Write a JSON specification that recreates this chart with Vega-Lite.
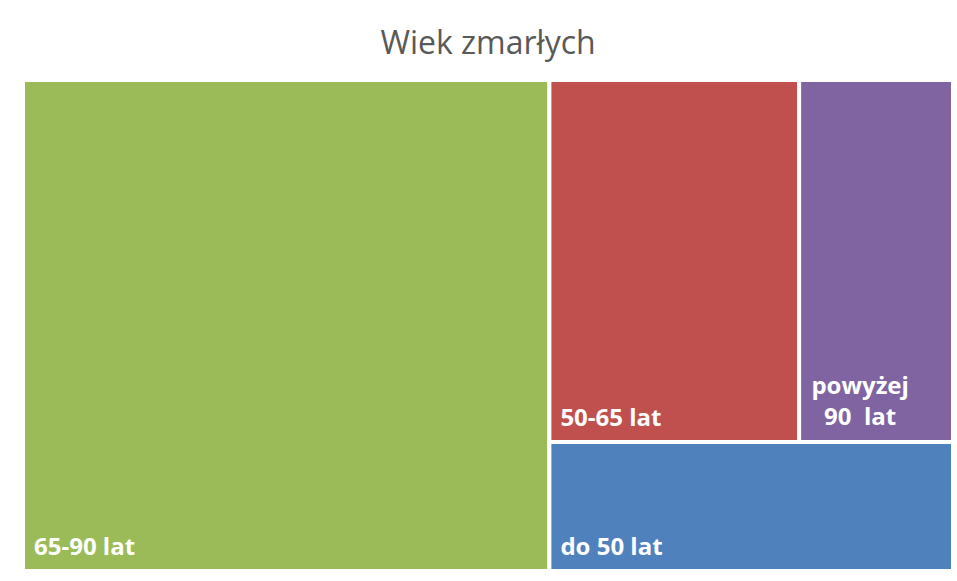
{
  "$schema": "https://vega.github.io/schema/vega-lite/v6.json",
  "width": 930,
  "height": 491,
  "autosize": {"type": "none"},
  "padding": {"left": 23, "top": 80, "right": 4, "bottom": 10},
  "background": "white",
  "title": {
    "text": "Wiek zmarłych",
    "font": "Open Sans",
    "fontSize": 32,
    "fontWeight": "normal",
    "color": "#595959",
    "anchor": "middle",
    "offset": 17
  },
  "config": {"view": {"stroke": null}},
  "data": {
    "values": [
      {"label": "65-90 lat", "value": 56.6, "col": 1, "row": "g"},
      {"label": "50-65 lat", "value": 19.8, "col": 2, "row": "top"},
      {"label": "powyżej\n90\u00a0\u00a0lat", "value": 12.2, "col": 2, "row": "top"},
      {"label": "do 50 lat", "value": 11.4, "col": 2, "row": "bottom"}
    ]
  },
  "transform": [
    {"joinaggregate": [{"op": "sum", "field": "value", "as": "total"}]},
    {"joinaggregate": [{"op": "sum", "field": "value", "as": "colSum"}], "groupby": ["col"]},
    {"joinaggregate": [{"op": "sum", "field": "value", "as": "rowSum"}], "groupby": ["row"]},
    {"stack": "value", "groupby": ["row"], "sort": [{"field": "value", "order": "descending"}], "offset": "normalize", "as": ["r0", "r1"]},
    {"calculate": "datum.col == 1 ? 0 : 1 - datum.colSum / datum.total", "as": "cx0"},
    {"calculate": "datum.col == 1 ? datum.colSum / datum.total : 1", "as": "cx1"},
    {"calculate": "datum.cx0 + datum.r0 * (datum.cx1 - datum.cx0)", "as": "x0"},
    {"calculate": "datum.cx0 + datum.r1 * (datum.cx1 - datum.cx0)", "as": "x1"},
    {"calculate": "datum.row == 'bottom' ? 1 - datum.rowSum / datum.colSum : 0", "as": "y0"},
    {"calculate": "datum.row == 'top' ? datum.rowSum / datum.colSum : 1", "as": "y1"},
    {"calculate": "indexof(datum.label, '\\n') >= 0", "as": "multi"}
  ],
  "encoding": {
    "x": {"field": "x0", "type": "quantitative", "scale": {"domain": [0, 1], "nice": false, "zero": false}, "axis": null},
    "y": {"field": "y1", "type": "quantitative", "scale": {"domain": [0, 1], "nice": false, "zero": false, "reverse": true}, "axis": null}
  },
  "layer": [
    {
      "mark": {"type": "rect", "stroke": "white", "strokeWidth": 4},
      "encoding": {
        "x2": {"field": "x1"},
        "y": {"field": "y0", "type": "quantitative"},
        "y2": {"field": "y1"},
        "fill": {
          "field": "label",
          "type": "nominal",
          "scale": {
            "domain": ["65-90 lat", "50-65 lat", "powyżej\n90\u00a0\u00a0lat", "do 50 lat"],
            "range": ["#9BBB59", "#C0504D", "#8064A2", "#4F81BD"]
          },
          "legend": null
        }
      }
    },
    {
      "transform": [{"filter": "!datum.multi"}],
      "mark": {"type": "text", "align": "left", "baseline": "alphabetic", "dx": 11, "dy": -16, "font": "Open Sans", "fontSize": 24, "fontWeight": "bold", "fill": "white"},
      "encoding": {"text": {"field": "label"}}
    },
    {
      "transform": [{"filter": "datum.multi"}],
      "mark": {"type": "text", "align": "center", "baseline": "alphabetic", "dx": 61, "dy": -48, "lineBreak": "\n", "lineHeight": 31, "font": "Open Sans", "fontSize": 24, "fontWeight": "bold", "fill": "white"},
      "encoding": {"text": {"field": "label"}}
    }
  ]
}
